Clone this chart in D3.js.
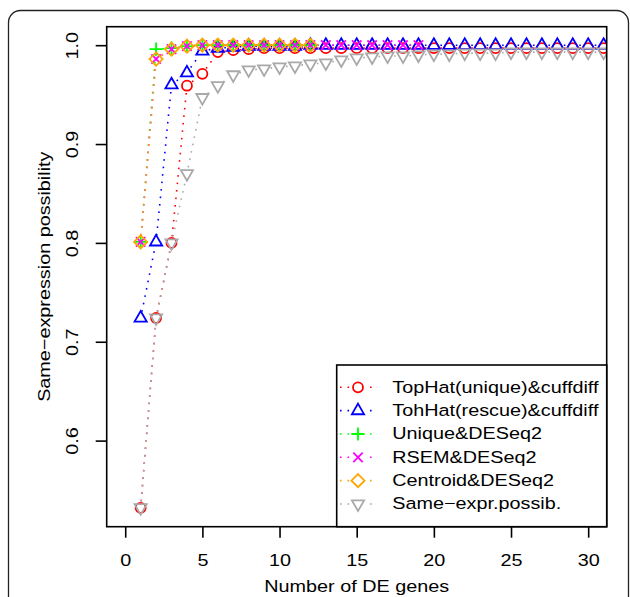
<!DOCTYPE html>
<html lang="en">
<head>
<meta charset="utf-8">
<title>Same-expression possibility</title>
<style>
body {
  margin: 0;
  background: white;
}
text {
  font-family: "Liberation Sans", Arial, sans-serif;
  fill: black;
}
.tickText, .axisTitle, .legendText {
  font-size: 16.5px;
}
</style>
</head>
<body>
<div id="chart"></div>
<script src="https://d3js.org/d3.v7.min.js"></script>
<script>
// x positions (number of DE genes)
var deGenes = [1,2,3,4,5,6,7,8,9,10,11,12,13,14,15,16,17,18,19,20,21,22,23,24,25,26,27,28,29,30,31];

// series values
var tophatUnique = [0.532,0.724,0.800,0.959,0.971,0.993,0.995,0.996,0.997,0.997,0.997,0.997,0.997,0.997,0.997,0.997,
  0.997,0.997,0.997,0.997,0.997,0.997,0.997,0.997,0.997,0.997,0.997,0.997,0.997,0.997,0.997];
var tohhatRescue = [0.724,0.801,0.960,0.972,0.994,0.997,0.998,0.999,0.999,0.999,0.999,1.000,1.000,1.000,1.000,1.000,
  1.000,1.000,1.000,1.000,1.000,1.000,1.000,1.000,1.000,1.000,1.000,1.000,1.000,1.000,1.000];
var uniqueDESeq2 = [0.801,0.996,0.997,0.999,1.000,1.000,1.000,1.000,1.000,1.000,1.000,1.000];
var rsemDESeq2 = [0.801,0.986,0.996,0.999,1.000,1.000,1.000,1.000,1.000,1.000,1.000,1.000,1.000,1.000,1.000,1.000,1.000,1.000,1.000];
var centroidDESeq2 = [0.801,0.986,0.996,0.999,1.000,1.000,1.000,1.000,1.000,1.000,1.000,1.000];
var sameExpr = [0.532,0.724,0.800,0.870,0.947,0.959,0.970,0.975,0.976,0.978,0.979,0.981,0.982,0.985,0.987,0.988,
  0.989,0.989,0.990,0.991,0.991,0.992,0.992,0.992,0.993,0.993,0.993,0.993,0.993,0.993,0.993];

var seriesNames = ['TopHat(unique)&cuffdiff', 'TohHat(rescue)&cuffdiff', 'Unique&DESeq2',
  'RSEM&DESeq2', 'Centroid&DESeq2', 'Same\u2212expr.possib.'];
var seriesValues = [tophatUnique, tohhatRescue, uniqueDESeq2, rsemDESeq2, centroidDESeq2, sameExpr];
var seriesColors = ['#ff0000', '#0000ff', '#00ff00', '#ff00ff', '#ffa500', '#a9a9a9'];
var seriesShapes = ['circle', 'triangleUp', 'plus', 'cross', 'diamond', 'triangleDown'];

var xTicks = [0, 5, 10, 15, 20, 25, 30];
var yTicks = [0.6, 0.7, 0.8, 0.9, 1.0];

// the original glyphs run wider than Liberation Sans, so text is stretched along its baseline
var SX = 1.2;

var W = 630, H = 597;
var plot = { left: 106.7, right: 606.7, top: 26.7, bottom: 526.7 };

var x = d3.scaleLinear().domain([-1.2, 31.2]).range([plot.left, plot.right]);
var y = d3.scaleLinear().domain([0.5129, 1.0187]).range([plot.bottom, plot.top]);

var svg = d3.select('#chart')
  .append('svg')
  .attr('width', W)
  .attr('height', H);

// outer rounded frame (runs off the bottom of the picture)
svg.append('rect')
  .attr('x', 8.5).attr('y', 10.5)
  .attr('width', 620).attr('height', 700)
  .attr('rx', 12)
  .attr('fill', 'none')
  .attr('stroke', '#222')
  .attr('stroke-width', 1.3);

svg.append('clipPath').attr('id', 'plotClip')
  .append('rect')
  .attr('x', plot.left).attr('y', plot.top)
  .attr('width', plot.right - plot.left).attr('height', plot.bottom - plot.top);

// marker shapes, drawn around 0,0
function markerPath(shape) {
  var p = d3.path();
  if (shape == 'circle') {
    p.moveTo(5, 0); p.arc(0, 0, 5, 0, 2 * Math.PI);
  } else if (shape == 'triangleUp') {
    p.moveTo(0, -7); p.lineTo(6.1, 3.6); p.lineTo(-6.1, 3.6); p.closePath();
  } else if (shape == 'triangleDown') {
    p.moveTo(0, 7); p.lineTo(6.1, -3.6); p.lineTo(-6.1, -3.6); p.closePath();
  } else if (shape == 'plus') {
    p.moveTo(-6.6, 0); p.lineTo(6.6, 0); p.moveTo(0, -6.6); p.lineTo(0, 6.6);
  } else if (shape == 'cross') {
    p.moveTo(-4.7, -4.7); p.lineTo(4.7, 4.7); p.moveTo(-4.7, 4.7); p.lineTo(4.7, -4.7);
  } else if (shape == 'diamond') {
    p.moveTo(0, -6.6); p.lineTo(6.6, 0); p.lineTo(0, 6.6); p.lineTo(-6.6, 0); p.closePath();
  }
  return p.toString();
}

// dotted line pieces that stop short of each point (type = "b")
function gappedSegments(pts, gap) {
  var segs = [];
  for (var i = 1; i < pts.length; i++) {
    var a = pts[i - 1], b = pts[i];
    var dx = b[0] - a[0], dy = b[1] - a[1];
    var len = Math.sqrt(dx * dx + dy * dy);
    if (len <= 2 * gap) continue;
    var ux = dx / len, uy = dy / len;
    segs.push([a[0] + ux * gap, a[1] + uy * gap, b[0] - ux * gap, b[1] - uy * gap]);
  }
  return segs;
}

var dataG = svg.append('g').attr('clip-path', 'url(#plotClip)');

seriesValues.forEach(function(vals, k) {
  var pts = vals.map(function(v, i) { return [x(deGenes[i]), y(v)]; });
  var g = dataG.append('g');
  g.selectAll('line')
    .data(gappedSegments(pts, 6.5))
    .enter()
    .append('line')
    .attr('x1', function(d) { return d[0]; })
    .attr('y1', function(d) { return d[1]; })
    .attr('x2', function(d) { return d[2]; })
    .attr('y2', function(d) { return d[3]; })
    .attr('stroke', seriesColors[k])
    .attr('stroke-width', 1.6)
    .attr('stroke-dasharray', '1.6,5.9');
  g.selectAll('path')
    .data(pts)
    .enter()
    .append('path')
    .attr('d', markerPath(seriesShapes[k]))
    .attr('transform', function(d) { return 'translate(' + d[0] + ',' + d[1] + ')'; })
    .attr('fill', 'none')
    .attr('stroke', seriesColors[k])
    .attr('stroke-width', 1.8);
});

// plot box
svg.append('rect')
  .attr('x', plot.left).attr('y', plot.top)
  .attr('width', plot.right - plot.left).attr('height', plot.bottom - plot.top)
  .attr('fill', 'none')
  .attr('stroke', 'black')
  .attr('stroke-width', 1.6);

// x axis: ticks below the box
var xAxis = svg.append('g')
  .attr('transform', 'translate(0,' + plot.bottom + ')')
  .call(d3.axisBottom(x).tickValues(xTicks).tickSize(11).tickSizeOuter(0).tickFormat(d3.format('d')));
xAxis.select('.domain').remove();
xAxis.selectAll('line').attr('stroke', 'black').attr('stroke-width', 1.6);
xAxis.selectAll('text')
  .attr('class', 'tickText')
  .attr('font-size', null).attr('font-family', null)
  .attr('y', null).attr('dy', null)
  .attr('fill', 'black')
  .attr('transform', 'translate(0,39.5) scale(' + SX + ',1)');

// y axis: rotated tick labels
var yAxis = svg.append('g')
  .attr('transform', 'translate(' + plot.left + ',0)')
  .call(d3.axisLeft(y).tickValues(yTicks).tickSize(11).tickSizeOuter(0).tickFormat(d3.format('.1f')));
yAxis.select('.domain').remove();
yAxis.selectAll('line').attr('stroke', 'black').attr('stroke-width', 1.6);
yAxis.selectAll('text')
  .attr('class', 'tickText')
  .attr('font-size', null).attr('font-family', null)
  .attr('x', null).attr('dy', null)
  .attr('fill', 'black')
  .attr('text-anchor', 'middle')
  .attr('transform', 'translate(-29,0) rotate(-90) scale(' + SX + ',1)');

// axis titles
svg.append('text')
  .attr('class', 'axisTitle')
  .attr('text-anchor', 'middle')
  .attr('transform', 'translate(' + ((plot.left + plot.right) / 2) + ',592) scale(' + SX + ',1)')
  .text('Number of DE genes');
svg.append('text')
  .attr('class', 'axisTitle')
  .attr('text-anchor', 'middle')
  .attr('transform', 'translate(50,' + ((plot.top + plot.bottom) / 2) + ') rotate(-90) scale(' + SX + ',1)')
  .text('Same\u2212expression possibility');

// legend, anchored bottom right of the plot
var legend = svg.append('g');
legend.append('rect')
  .attr('x', 336.7).attr('y', 365)
  .attr('width', plot.right - 336.7).attr('height', plot.bottom - 365)
  .attr('fill', 'white')
  .attr('stroke', 'black')
  .attr('stroke-width', 1.6);

var rowY0 = 387.3, rowStep = 23.34;
seriesNames.forEach(function(name, k) {
  var ry = rowY0 + k * rowStep;
  legend.append('line')
    .attr('x1', 340).attr('x2', 373)
    .attr('y1', ry).attr('y2', ry)
    .attr('stroke', seriesColors[k])
    .attr('stroke-width', 1.6)
    .attr('stroke-dasharray', '1.6,5.9');
  legend.append('rect')
    .attr('x', 350).attr('y', ry - 7).attr('width', 16).attr('height', 14)
    .attr('fill', 'white');
  legend.append('path')
    .attr('d', markerPath(seriesShapes[k]))
    .attr('transform', 'translate(358,' + ry + ')')
    .attr('fill', 'none')
    .attr('stroke', seriesColors[k])
    .attr('stroke-width', 1.8);
  legend.append('text')
    .attr('class', 'legendText')
    .attr('transform', 'translate(392.3,' + (ry + 5.2) + ') scale(' + SX + ',1)')
    .text(name);
});
</script>
</body>
</html>
